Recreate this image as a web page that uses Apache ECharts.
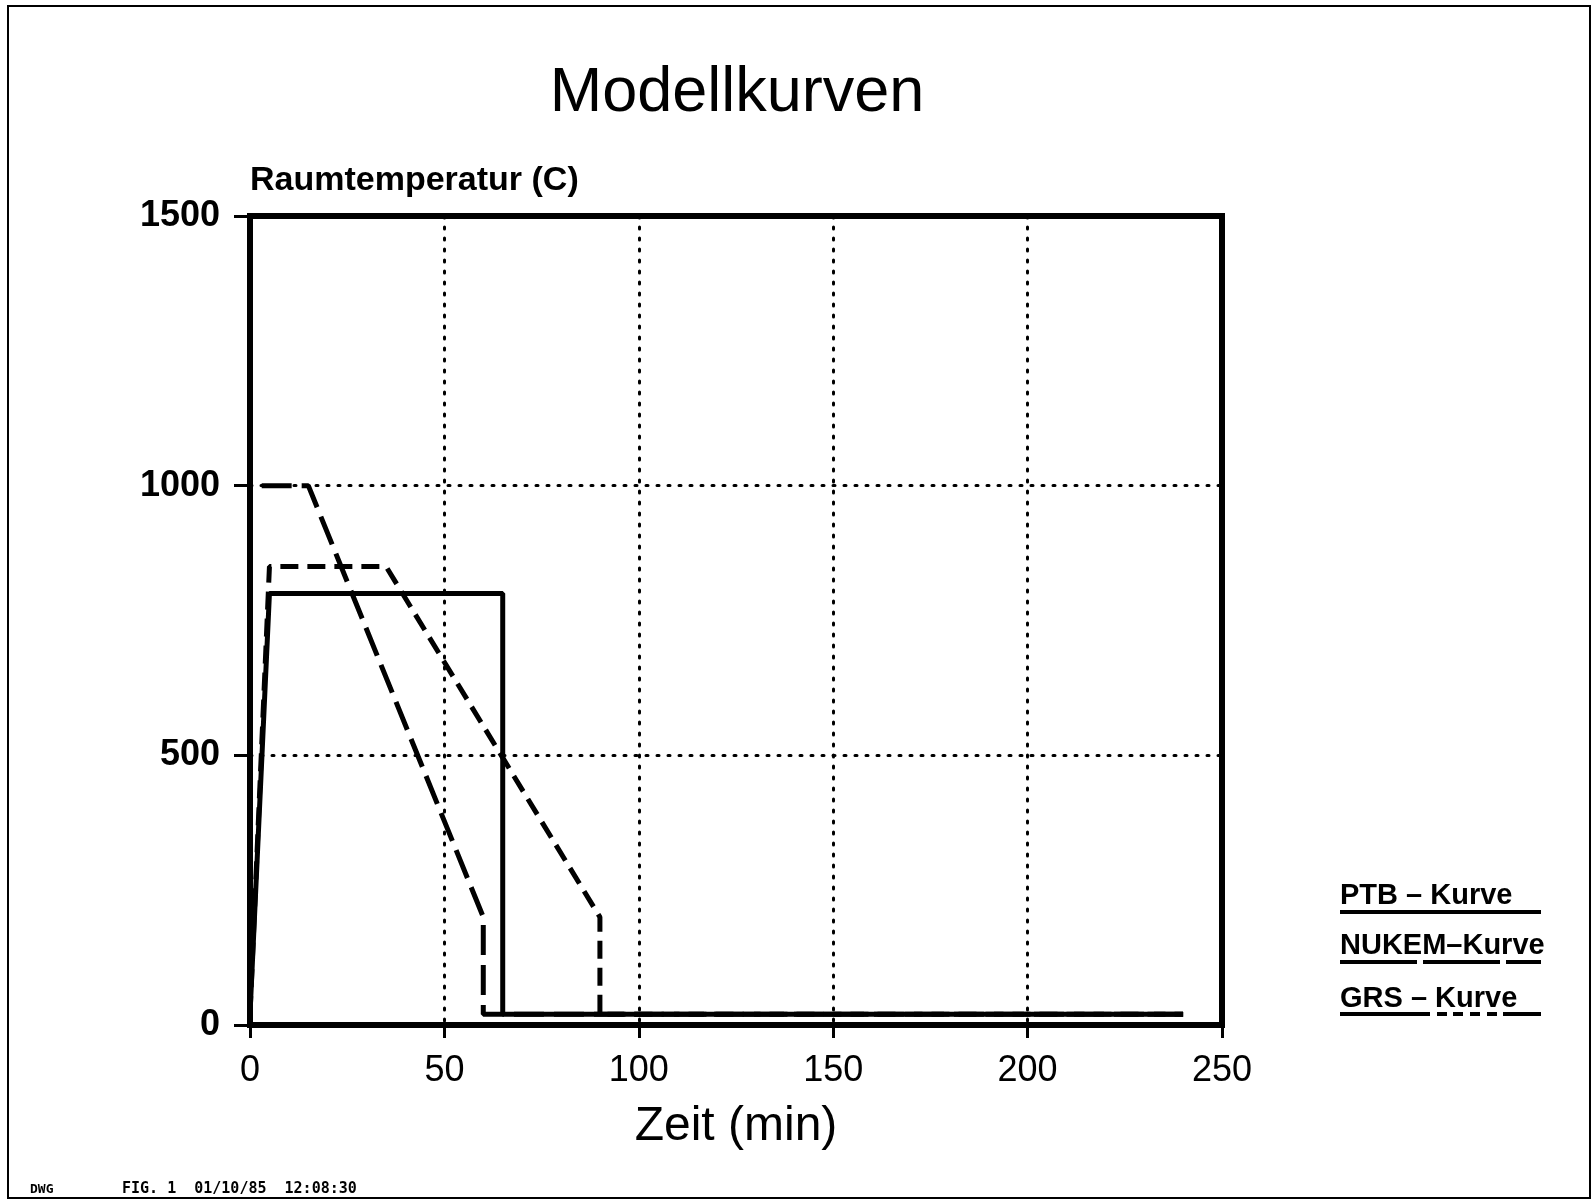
<!DOCTYPE html>
<html>
<head>
<meta charset="utf-8">
<script src="https://cdn.jsdelivr.net/npm/echarts@6/dist/echarts.min.js"></script>
<style>
  html, body { margin: 0; padding: 0; background: #fff; }
  #chart { width: 1594px; height: 1203px; }
</style>
</head>
<body>
<div id="chart"></div>
<script>
// curve points (time in min, temperature in C)
const ptbTime = [0, 5, 65, 65, 240];
const ptbTemp = [20, 800, 800, 20, 20];
const nukemTime = [3, 15, 60, 60, 240];
const nukemTemp = [1000, 1000, 200, 20, 20];
const grsTime = [0, 5, 35, 90, 90, 240];
const grsTemp = [20, 850, 850, 200, 20, 20];

const xTicks = [0, 50, 100, 150, 200, 250];
const yTicks = [0, 500, 1000, 1500];

const legendNames = ['PTB \u2013 Kurve', 'NUKEM\u2013Kurve', 'GRS \u2013 Kurve'];

const pairs = (xs, ys) => xs.map((x, i) => [x, ys[i]]);

const font = '"Liberation Sans", Arial, sans-serif';

const chart = echarts.init(document.getElementById('chart'));

const legendY = [896, 946, 999];
const legendLineY = [912, 962, 1014];
const legendDash = [null, [77, 6], [90, 7, 10, 6, 10, 7, 10, 7, 10, 6]];

const graphics = [
  { type: 'rect', shape: { x: 8, y: 6, width: 1582, height: 1192 },
    style: { fill: 'none', stroke: '#000', lineWidth: 2 } },
  { type: 'text', left: 30, top: 1183,
    style: { text: 'DWG', font: 'bold 13px "DejaVu Sans Mono", monospace', fill: '#000' } },
  { type: 'text', left: 122, top: 1182,
    style: { text: 'FIG. 1  01/10/85  12:08:30', font: 'bold 15px "DejaVu Sans Mono", monospace', fill: '#000' } }
];
legendNames.forEach((name, i) => {
  graphics.push({
    type: 'text', x: 1340, y: legendY[i],
    style: { text: name, font: 'bold 29px ' + font, fill: '#000', verticalAlign: 'middle' }
  });
  graphics.push({
    type: 'line', shape: { x1: 1340, y1: legendLineY[i], x2: 1541, y2: legendLineY[i] },
    style: { stroke: '#000', lineWidth: 4, lineDash: legendDash[i] }
  });
});

const option = {
  backgroundColor: '#fff',
  animation: false,
  title: {
    text: 'Modellkurven',
    left: 732,
    textAlign: 'center',
    top: 57,
    textStyle: { fontFamily: font, fontSize: 63, fontWeight: 'normal', color: '#000' }
  },
  grid: {
    left: 250, right: 372, top: 216, bottom: 178,
    show: true, borderColor: '#000', borderWidth: 6
  },
  xAxis: {
    type: 'value',
    min: xTicks[0], max: xTicks[xTicks.length - 1], interval: 50,
    name: 'Zeit (min)',
    nameLocation: 'middle',
    nameGap: 78,
    nameTextStyle: { fontFamily: font, fontSize: 48, color: '#000' },
    axisLine: { lineStyle: { color: '#000', width: 6 } },
    axisTick: { length: 13, lineStyle: { color: '#000', width: 3 } },
    axisLabel: { margin: 28, fontFamily: font, fontSize: 36, color: '#000' },
    splitLine: { show: true, lineStyle: { color: '#000', width: 3, type: [2, 9], cap: 'round' } }
  },
  yAxis: {
    type: 'value',
    min: yTicks[0], max: yTicks[yTicks.length - 1], interval: 500,
    name: 'Raumtemperatur (C)',
    nameLocation: 'end',
    nameGap: 35,
    nameTextStyle: { fontFamily: font, fontSize: 34, fontWeight: 'bold', color: '#000', align: 'left', verticalAlign: 'middle' },
    axisLine: { show: true, lineStyle: { color: '#000', width: 6 } },
    axisTick: { show: true, length: 16, lineStyle: { color: '#000', width: 3 } },
    axisLabel: { margin: 30, fontFamily: font, fontSize: 36, fontWeight: 'bold', color: '#000', formatter: (v) => String(v) },
    splitLine: { show: true, lineStyle: { color: '#000', width: 3, type: [2, 9], cap: 'round' } }
  },
  graphic: graphics,
  series: [
    {
      name: 'GRS', type: 'line', data: pairs(grsTime, grsTemp),
      showSymbol: false, silent: true,
      lineStyle: { color: '#000', width: 5, type: [18, 9] }
    },
    {
      name: 'NUKEM', type: 'line', data: pairs(nukemTime, nukemTemp),
      showSymbol: false, silent: true,
      lineStyle: { color: '#000', width: 5, type: [30, 10] }
    },
    {
      name: 'PTB', type: 'line', data: pairs(ptbTime, ptbTemp),
      showSymbol: false, silent: true,
      lineStyle: { color: '#000', width: 5 }
    }
  ]
};

chart.setOption(option);
</script>
</body>
</html>
